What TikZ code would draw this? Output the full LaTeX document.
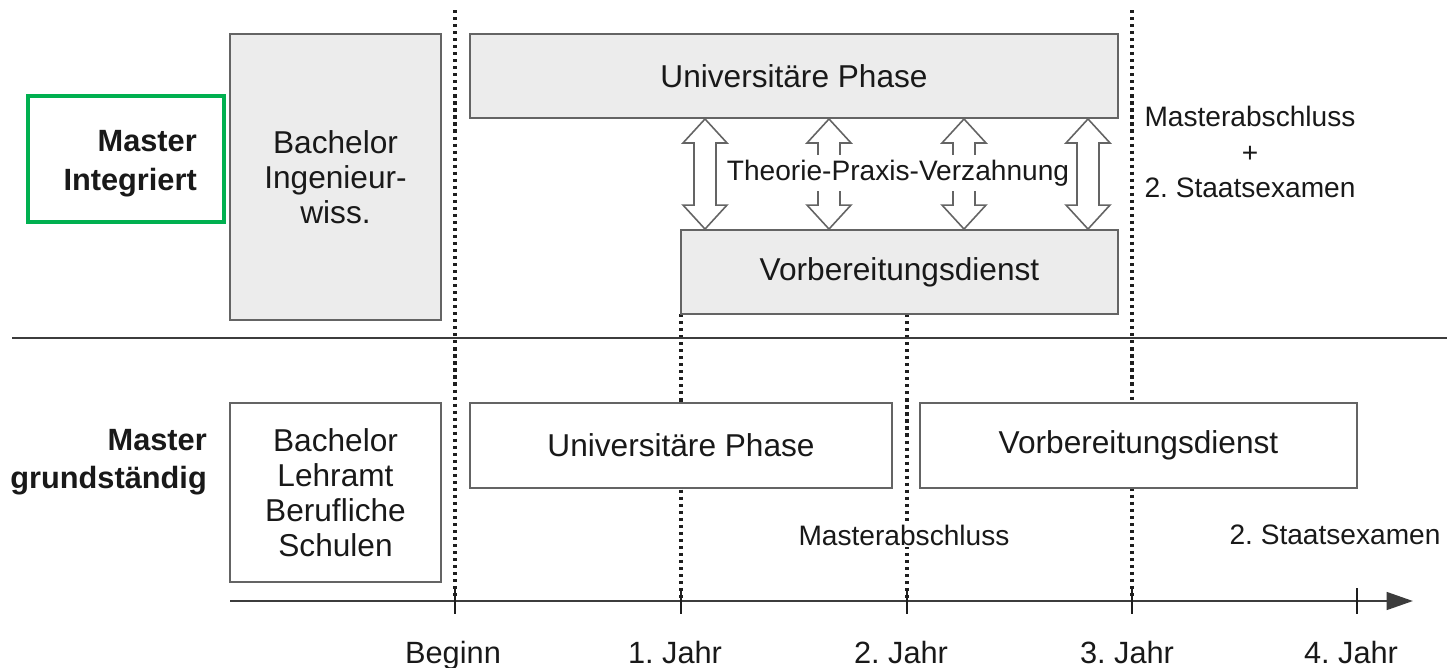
\documentclass[tikz,border=0pt]{standalone}
\usepackage{fontspec}
\setmainfont{Liberation Sans}
\usetikzlibrary{arrows.meta}
\usetikzlibrary{calc}
\frenchspacing

\definecolor{boxgray}{RGB}{100,100,100}
\definecolor{phasegray}{RGB}{236,236,236}
\definecolor{guideblack}{RGB}{30,30,30}
\definecolor{rulegray}{RGB}{60,60,60}
\definecolor{markgreen}{RGB}{0,176,80}
\definecolor{textblack}{RGB}{25,25,25}

\tikzset{
  phase/.style={draw=boxgray, line width=1.1pt, fill=phasegray, align=center, inner sep=0pt, text=textblack, font=\fontsize{18}{20}\selectfont},
  plainphase/.style={phase, fill=white},
  note/.style={align=center, text=textblack, font=\fontsize{16}{20}\selectfont},
  rowname/.style={align=right, text=textblack, font=\fontsize{17.5}{22}\selectfont\bfseries},
  yearlabel/.style={text=textblack, font=\fontsize{17.5}{21}\selectfont, anchor=base},
  guide/.style={draw=guideblack, line width=1.8pt, dash pattern=on 1.8pt off 2.2pt},
  link/.style={draw=boxgray, line width=0.9pt, fill=white},
}

\begin{document}
\begin{tikzpicture}[x=0.02cm, y=-0.02cm]
	\useasboundingbox (0,0) rectangle (1447,667);

	% ticks of the time axis
	\foreach \x/\n in {455/0,681/1,907/2,1132/3,1357/4}
		\coordinate (tick\n) at (\x,601);

	% dotted guides
	\draw[guide] (455,10) -- (tick0);
	\draw[guide] (1132,10) -- (tick3);
	\draw[guide] (681,314) -- (tick1);
	\draw[guide] (907,314) -- (tick2);

	% separator
	\draw[draw=rulegray, line width=1.6pt] (12,338) -- (1447,338);

	% time axis
	\coordinate (axstart) at (230,601);
	\coordinate (axend) at (1413,601);
	\draw[draw=rulegray, line width=1.6pt, -{Triangle[length=15pt,width=10pt]}] (axstart) -- (axend);
	\foreach \n in {0,...,4}
		\draw[draw=guideblack, line width=0.7pt] ($(tick\n)+(0,-13)$) -- ($(tick\n)+(0,13)$);
	\node[yearlabel] (year0) at (453,663) {Beginn};
	\node[yearlabel] (year1) at (675,663) {1. Jahr};
	\node[yearlabel] (year2) at (901,663) {2. Jahr};
	\node[yearlabel] (year3) at (1127,663) {3. Jahr};
	\node[yearlabel] (year4) at (1351,663) {4. Jahr};

	% upper row
	\node[draw=markgreen, line width=2.2pt, minimum width=3.92cm, minimum height=2.52cm] (masterFrame) at (126,159) {};
	\node[rowname, anchor=east] (masterInt) at (203,164) {Master\\Integriert};
	\node[phase, minimum width=4.22cm, minimum height=5.72cm] (bachIng) at (335.5,177) {Bachelor\\Ingenieur-\\wiss.};
	\node[phase, minimum width=12.96cm, minimum height=1.68cm] (uniTop) at (794,76) {Universitäre Phase};
	\node[phase, minimum width=8.74cm, minimum height=1.68cm] (vorbTop) at (899.5,272) {Vorbereitungsdienst};

	\foreach \x in {705,829,964,1088} {
		\coordinate (ax) at (\x,0);
		\coordinate (up) at (ax |- uniTop.south);
		\coordinate (dn) at (ax |- vorbTop.north);
		\draw[link] (up) -- ++(22,24) -- ++(-11,0) -- ($(dn)+(11,-24)$) -- ++(11,0) -- (dn)
			-- ++(-22,-24) -- ++(11,0) -- ($(up)+(-11,24)$) -- ++(-11,0) -- cycle;
	}
	\node[note, fill=white, inner sep=3pt, inner xsep=2pt] (verzahnung) at (898,173) {Theorie-Praxis-Verzahnung};
	\node[note] (abschlussTop) at (1250,152) {Masterabschluss\\+\\2. Staatsexamen};

	% lower row
	\node[rowname, anchor=east] (masterGrund) at (213,462) {Master\\grundständig};
	\node[plainphase, minimum width=4.22cm, minimum height=3.58cm] (bachLA) at (335.5,492.5) {Bachelor\\Lehramt\\Berufliche\\Schulen};
	\node[plainphase, minimum width=8.44cm, minimum height=1.7cm] (uniBot) at (681,445.5) {Universitäre Phase};
	\node[plainphase, minimum width=8.74cm, minimum height=1.7cm] (vorbBot) at (1138.5,445.5) {Vorbereitungsdienst};
	\node[note, fill=white, inner sep=1pt] (abschluss) at (904,535) {Masterabschluss};
	\node[note] (examen) at (1335,535) {2. Staatsexamen};
\end{tikzpicture}
\end{document}
